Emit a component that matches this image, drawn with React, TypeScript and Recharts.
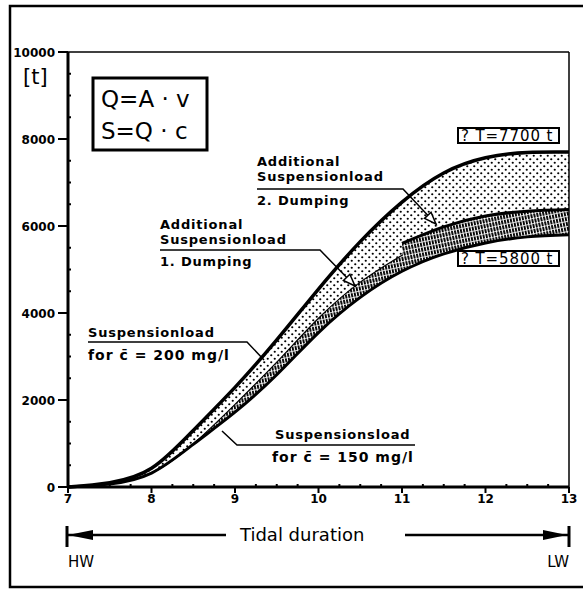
import { Area, ComposedChart, Line, ReferenceLine, XAxis, YAxis } from 'recharts'

// tidal time [h] and cumulated suspension load [t]
const time = [7, 7.5, 8, 8.5, 9, 9.5, 10, 10.5, 11, 11.5, 12, 12.5, 13]
const load200 = [0, 100, 430, 1300, 2290, 3380, 4550, 5640, 6550, 7220, 7570, 7690, 7700]
const load150 = [0, 70, 320, 980, 1720, 2580, 3550, 4360, 4960, 5360, 5610, 5750, 5800]
// upper edge of the hatched band: 1. dumping up to 11 h, 2. dumping after
const dumping1 = [0, 70, 320, 990, 1900, 2870, 3880, 4710, 5330, null, null, null, null]
const dumping2 = [null, null, null, null, null, null, null, null, 5600, 5980, 6230, 6340, 6380]

const xTicks = [7, 7.25, 7.5, 7.75, 8, 8.25, 8.5, 8.75, 9, 9.25, 9.5, 9.75, 10, 10.25, 10.5, 10.75, 11, 11.25, 11.5, 11.75, 12, 12.25, 12.5, 12.75, 13]
const xLabels = [7, 8, 9, 10, 11, 12, 13]
const yTicks = [0, 500, 1000, 1500, 2000, 2500, 3000, 3500, 4000, 4500, 5000, 5500, 6000, 6500, 7000, 7500, 8000, 8500, 9000, 9500, 10000]
const yLabels = [0, 2000, 4000, 6000, 8000, 10000]

const rows = time.map((t, i) => {
  const m1 = dumping1[i]
  const m2 = dumping2[i]
  return {
    t,
    upper: load200[i],
    lower: load150[i],
    m1,
    m2,
    dot1: m1 == null ? null : [m1, load200[i]],
    dot2: m2 == null ? null : [m2, load200[i]],
    hatch1: m1 == null ? null : [load150[i], m1],
    hatch2: m2 == null ? null : [load150[i], m2],
  }
})

const FONT = 'DejaVu Sans'

function XTick({ x, y, payload }: any) {
  const major = xLabels.includes(payload.value)
  return (
    <g>
      <line x1={x} x2={x} y1={major ? y : y - 3} y2={major ? y + 6 : y} stroke="#000" strokeWidth={2} />
      {major && (
        <text x={x} y={y + 16} textAnchor="middle" fontFamily={FONT} fontWeight="bold" fontSize={12} fill="#000">
          {payload.value}
        </text>
      )}
    </g>
  )
}

function YTick({ x, y, payload }: any) {
  const major = yLabels.includes(payload.value)
  return (
    <g>
      <line x1={major ? x - 10 : x} x2={major ? x : x + 3} y1={y} y2={y} stroke="#000" strokeWidth={2} />
      {major && (
        <text x={x - 13} y={y + 4.5} textAnchor="end" fontFamily={FONT} fontWeight="bold" fontSize={12} fill="#000">
          {payload.value}
        </text>
      )}
    </g>
  )
}

function openArrow(x1: number, y1: number, x2: number, y2: number) {
  const a = Math.atan2(y2 - y1, x2 - x1)
  const len = 12
  const w = 4.5
  const bx = x2 - len * Math.cos(a)
  const by = y2 - len * Math.sin(a)
  const px = -Math.sin(a) * w
  const py = Math.cos(a) * w
  return `${x2},${y2} ${bx + px},${by + py} ${bx - px},${by - py}`
}

function Annotations() {
  const label = { fontFamily: FONT, fontWeight: 'bold' as const, fontSize: 13, letterSpacing: 0.8, fill: '#000' }
  const conc = { fontFamily: FONT, fontWeight: 'bold' as const, fontSize: 14, letterSpacing: 1, fill: '#000' }
  return (
    <svg width={583} height={590} style={{ position: 'absolute', left: 0, top: 0, pointerEvents: 'none' }}>
      {/* outer frame */}
      <path d="M583,6 L10,6 L10,587 L583,587" fill="none" stroke="#000" strokeWidth={2.5} />

      <text x={23} y={84} fontFamily={FONT} fontSize={21} fill="#000">[t]</text>

      <rect x={93} y={78} width={114} height={72} fill="#fff" stroke="#000" strokeWidth={3} />
      <text x={101} y={107} fontFamily={FONT} fontSize={23} fill="#000">Q=A · v</text>
      <text x={101} y={139} fontFamily={FONT} fontSize={23} fill="#000">S=Q · c</text>

      <rect x={458} y={128} width={101} height={15} fill="#fff" stroke="#000" strokeWidth={2} />
      <text x={461} y={141} fontFamily={FONT} fontSize={15} letterSpacing={0.9} fill="#000">? T=7700 t</text>
      <rect x={458} y={251} width={101} height={15} fill="#fff" stroke="#000" strokeWidth={2} />
      <text x={461} y={264} fontFamily={FONT} fontSize={15} letterSpacing={0.9} fill="#000">? T=5800 t</text>

      {/* 2. dumping */}
      <text x={257} y={166} {...label}>Additional</text>
      <text x={257} y={181} {...label}>Suspensionload</text>
      <text x={257} y={205} {...label}>2. Dumping</text>
      <polyline points="257,189 403,189 436,224" fill="none" stroke="#000" strokeWidth={1.5} />
      <polygon points={openArrow(403, 189, 436, 224)} fill="#fff" stroke="#000" strokeWidth={1.5} />

      {/* 1. dumping */}
      <text x={160} y={229} {...label}>Additional</text>
      <text x={160} y={244} {...label}>Suspensionload</text>
      <text x={160} y={266} {...label}>1. Dumping</text>
      <polyline points="160,250 320,250 355,286" fill="none" stroke="#000" strokeWidth={1.5} />
      <polygon points={openArrow(320, 250, 355, 286)} fill="#fff" stroke="#000" strokeWidth={1.5} />

      {/* 200 mg/l */}
      <text x={88} y={337} {...label}>Suspensionload</text>
      <text x={88} y={360} {...conc}>for  c̄ = 200 mg/l</text>
      <polyline points="88,342 247,342 264,360" fill="none" stroke="#000" strokeWidth={1.5} />

      {/* 150 mg/l */}
      <text x={275} y={439} {...label}>Suspensionsload</text>
      <text x={272} y={462} {...conc}>for  c̄ = 150 mg/l</text>
      <polyline points="222,431 237,445 415,445" fill="none" stroke="#000" strokeWidth={1.5} />

      {/* tidal duration */}
      <line x1={67} x2={67} y1={526} y2={547} stroke="#000" strokeWidth={3} />
      <line x1={67} x2={226} y1={535} y2={535} stroke="#000" strokeWidth={2.5} />
      <polygon points="68,535 93,530 93,540" fill="#000" />
      <text x={240} y={541} fontFamily={FONT} fontSize={18} fill="#000">Tidal duration</text>
      <line x1={405} x2={568} y1={535} y2={535} stroke="#000" strokeWidth={2.5} />
      <polygon points="567,535 543,530 543,540" fill="#000" />
      <line x1={569} x2={569} y1={526} y2={547} stroke="#000" strokeWidth={3} />
      <text x={68} y={567} fontFamily={FONT} fontSize={15} fill="#000">HW</text>
      <text x={569} y={567} textAnchor="end" fontFamily={FONT} fontSize={15} fill="#000">LW</text>
    </svg>
  )
}

export default function App() {
  return (
    <div style={{ position: 'absolute', left: 0, top: 0, width: 583, height: 590, background: '#fff' }}>
      <ComposedChart width={583} height={590} data={rows} margin={{ top: 52, right: 14, bottom: 83, left: 8 }}>
        <defs>
          <pattern id="dots" width={7} height={7} patternUnits="userSpaceOnUse">
            <rect width={7} height={7} fill="#fff" />
            <circle cx={1.75} cy={1.75} r={1.1} fill="#000" />
            <circle cx={5.25} cy={5.25} r={1.1} fill="#000" />
          </pattern>
          <pattern id="hatch" width={3} height={5} patternUnits="userSpaceOnUse" patternTransform="rotate(-12)">
            <rect width={3} height={5} fill="#fff" />
            <rect x={0} y={0} width={1.9} height={4.2} fill="#000" />
          </pattern>
        </defs>
        <XAxis
          dataKey="t"
          type="number"
          domain={[7, 13]}
          ticks={xTicks}
          interval={0}
          height={20}
          tickSize={0}
          tickMargin={0}
          tickLine={false}
          axisLine={{ stroke: '#000', strokeWidth: 3 }}
          tick={<XTick />}
        />
        <YAxis
          type="number"
          domain={[0, 10000]}
          ticks={yTicks}
          interval={0}
          width={60}
          tickSize={0}
          tickMargin={0}
          tickLine={false}
          axisLine={{ stroke: '#000', strokeWidth: 3 }}
          tick={<YTick />}
        />
        <ReferenceLine y={10000} stroke="#000" strokeWidth={1.5} />
        <ReferenceLine x={13} stroke="#000" strokeWidth={1.5} />

        <Area dataKey="dot1" type="natural" fill="url(#dots)" fillOpacity={1} stroke="none" isAnimationActive={false} />
        <Area dataKey="dot2" type="natural" fill="url(#dots)" fillOpacity={1} stroke="none" isAnimationActive={false} />
        <Area dataKey="hatch1" type="natural" fill="url(#hatch)" fillOpacity={1} stroke="none" isAnimationActive={false} />
        <Area dataKey="hatch2" type="natural" fill="url(#hatch)" fillOpacity={1} stroke="none" isAnimationActive={false} />

        <Line dataKey="m1" type="natural" stroke="#000" strokeWidth={1.2} dot={false} activeDot={false} isAnimationActive={false} />
        <Line dataKey="m2" type="natural" stroke="#000" strokeWidth={3} dot={false} activeDot={false} isAnimationActive={false} />
        <Line dataKey="lower" type="natural" stroke="#000" strokeWidth={3} dot={false} activeDot={false} isAnimationActive={false} />
        <Line dataKey="upper" type="natural" stroke="#000" strokeWidth={3.5} dot={false} activeDot={false} isAnimationActive={false} />
      </ComposedChart>
      <Annotations />
    </div>
  )
}
